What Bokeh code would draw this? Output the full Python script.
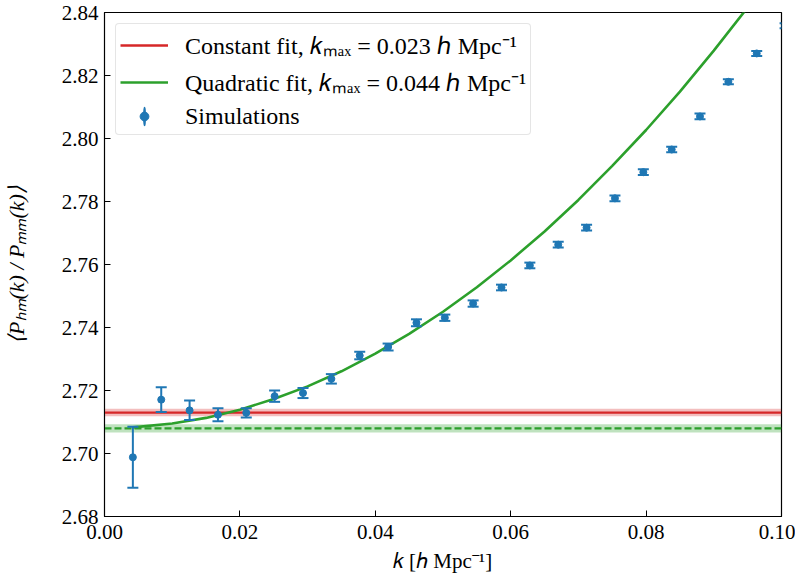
import math
from bokeh.plotting import figure
from bokeh.models import (Range1d, FixedTicker, NumeralTickFormatter, Legend,
                          LegendItem, ColumnDataSource)
from bokeh.embed import file_html
from bokeh.resources import INLINE

# ---------------- data ----------------
x_limits = [0.0, 0.10]
y_limits = [2.68, 2.84]
x_ticks = [0.00, 0.02, 0.04, 0.06, 0.08, 0.10]
y_ticks = [2.68, 2.70, 2.72, 2.74, 2.76, 2.78, 2.80, 2.82, 2.84]

k_sim = [0.00419, 0.00838, 0.01257, 0.01676, 0.02094, 0.02513, 0.02932, 0.03351,
         0.03770, 0.04189, 0.04608, 0.05027, 0.05445, 0.05864, 0.06283, 0.06702,
         0.07121, 0.07540, 0.07959, 0.08378, 0.08796, 0.09215, 0.09634, 0.10053]
ratio_sim = [2.6988, 2.7171, 2.7137, 2.7123, 2.7129, 2.7182, 2.7192, 2.7237,
             2.7311, 2.7338, 2.7415, 2.7431, 2.7476, 2.7527, 2.7597, 2.7663,
             2.7717, 2.7810, 2.7893, 2.7965, 2.8070, 2.8180, 2.8270, 2.8358]
err_sim = [0.0097, 0.0039, 0.0031, 0.0021, 0.0015, 0.0018, 0.0016, 0.0015,
           0.0012, 0.0011, 0.0011, 0.0010, 0.0010, 0.0009, 0.0009, 0.0009,
           0.0009, 0.0009, 0.0009, 0.0009, 0.0009, 0.0008, 0.0008, 0.0008]

const_fit = 2.7130
const_fit_err = 0.0012
quad_fit_const = 2.7080
quad_fit_const_err = 0.0013

curve_k = [0.0042, 0.010, 0.015, 0.020, 0.025, 0.030, 0.035, 0.040, 0.045, 0.050,
           0.055, 0.060, 0.065, 0.070, 0.075, 0.080, 0.085, 0.090, 0.095, 0.100]
curve_ratio = [2.7083, 2.7095, 2.7113, 2.7139, 2.7173, 2.7213, 2.7261, 2.7317, 2.7380,
               2.7450, 2.7528, 2.7613, 2.7705, 2.7805, 2.7913, 2.8027, 2.8149, 2.8279,
               2.8416, 2.8560]

label_const = "Constant fit, 𝑘ₘₐₓ = 0.023 ℎ Mpc⁻¹"
label_quad = "Quadratic fit, 𝑘ₘₐₓ = 0.044 ℎ Mpc⁻¹"
label_sim = "Simulations"
x_label = "𝑘 [ℎ Mpc⁻¹]"
y_label = "⟨Pₕₘ(k) / Pₘₘ(k)⟩"

RED = "#d62728"
GREEN = "#2ca02c"
BLUE = "#1f77b4"
FONT = "Liberation Serif"

# ---------------- figure ----------------
p = figure(frame_width=677, frame_height=504,
           x_range=Range1d(*x_limits), y_range=Range1d(*y_limits),
           output_backend="svg", toolbar_location=None,
           min_border_left=104, min_border_right=14, min_border_top=12,
           min_border_bottom=40)
p.background_fill_color = "white"
p.border_fill_color = "white"
p.outline_line_color = "black"
p.outline_line_width = 1.2
p.outline_line_alpha = 1.0
p.grid.visible = False

# bands and fit lines
p.varea(x=x_limits, y1=[const_fit - const_fit_err] * 2, y2=[const_fit + const_fit_err] * 2,
        fill_color=RED, fill_alpha=0.3)
p.varea(x=x_limits, y1=[quad_fit_const - quad_fit_const_err] * 2,
        y2=[quad_fit_const + quad_fit_const_err] * 2, fill_color=GREEN, fill_alpha=0.3)
r_const = p.line(x_limits, [const_fit] * 2, line_color=RED, line_width=2.3)
p.line(x_limits, [quad_fit_const] * 2, line_color=GREEN, line_width=2.3, line_dash="7 3")
r_curve = p.line(curve_k, curve_ratio, line_color=GREEN, line_width=2.6)

# simulations with error bars
src = ColumnDataSource(dict(
    k=k_sim, ratio=ratio_sim,
    lo=[r - e for r, e in zip(ratio_sim, err_sim)],
    hi=[r + e for r, e in zip(ratio_sim, err_sim)],
))
p.segment(x0="k", y0="lo", x1="k", y1="hi", source=src, line_color=BLUE, line_width=2)
p.scatter(x="k", y="hi", source=src, marker="dash", size=11, line_color=BLUE, line_width=2)
p.scatter(x="k", y="lo", source=src, marker="dash", size=11, line_color=BLUE, line_width=2)
# thin, tall ellipse hidden under each dot: gives a vertical bar in the legend
r_bar = p.ellipse(x="k", y="ratio", source=src, width=0.1, height=2,
                  width_units="screen", height_units="screen",
                  fill_color=BLUE, line_color=BLUE, line_width=2)
r_dot = p.scatter(x="k", y="ratio", source=src, marker="circle", size=7,
                  fill_color=BLUE, line_color=BLUE)

# ---------------- axes ----------------
for ax in (p.xaxis[0], p.yaxis[0]):
    ax.major_tick_in = 6
    ax.major_tick_out = 0
    ax.minor_tick_line_color = None
    ax.major_tick_line_color = "black"
    ax.axis_line_color = "black"
    ax.major_label_text_font = FONT
    ax.major_label_text_font_size = "21px"
    ax.major_label_text_color = "black"
    ax.axis_label_text_font = FONT
    ax.axis_label_text_font_size = "21px"
    ax.axis_label_text_color = "black"
    ax.axis_label_text_font_style = "normal"
    ax.formatter = NumeralTickFormatter(format="0.00")

p.xaxis.ticker = FixedTicker(ticks=x_ticks)
p.yaxis.ticker = FixedTicker(ticks=y_ticks)
p.xaxis.major_label_standoff = 8
p.yaxis.major_label_standoff = 6
p.xaxis.axis_label = x_label
p.yaxis.axis_label = y_label
p.yaxis.axis_label_text_font_style = "italic"
p.yaxis.axis_label_text_font_size = "22px"
p.xaxis.axis_label_standoff = 7
p.yaxis.axis_label_standoff = 30

# ---------------- legend ----------------
legend = Legend(items=[
    LegendItem(label=label_const, renderers=[r_const]),
    LegendItem(label=label_quad, renderers=[r_curve]),
    LegendItem(label=label_sim, renderers=[r_bar, r_dot]),
], location="top_left")
legend.label_text_font = FONT
legend.label_text_font_size = "24px"
legend.label_text_color = "black"
legend.glyph_width = 48
legend.glyph_height = 22
legend.label_height = 28
legend.label_standoff = 17
legend.spacing = 4
legend.padding = 4
legend.margin = 11
legend.border_line_color = "#cccccc"
legend.border_line_width = 1
legend.border_radius = 4
legend.background_fill_color = "white"
legend.background_fill_alpha = 0.8
p.add_layout(legend)

open("out.html", "w").write(file_html(p, INLINE))
